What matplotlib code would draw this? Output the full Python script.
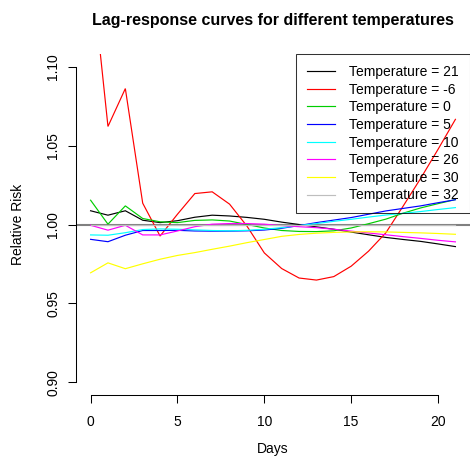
import matplotlib
matplotlib.use("Agg")
import matplotlib.pyplot as plt
from matplotlib.lines import Line2D

# Lag in days
days = list(range(22))

# Relative risk by lag for each temperature
rr_t21 = [1.0087, 1.0059, 1.0087, 1.0027, 1.0012, 1.0024, 1.0046, 1.0059, 1.0054, 1.0045, 1.0033,
          1.0015, 1.0000, 0.9985, 0.9970, 0.9952, 0.9935, 0.9918, 0.9905, 0.9893, 0.9877, 0.9860]
rr_tm6 = [1.1670, 1.0621, 1.0861, 1.0135, 0.9927, 1.0065, 1.0196, 1.0207, 1.0129, 0.9990, 0.9820,
          0.9721, 0.9661, 0.9648, 0.9670, 0.9736, 0.9831, 0.9948, 1.0118, 1.0292, 1.0476, 1.0666]
rr_t0 = [1.0154, 1.0002, 1.0118, 1.0038, 1.0017, 1.0012, 1.0026, 1.0029, 1.0022, 1.0000, 0.9978,
         0.9962, 0.9956, 0.9955, 0.9960, 0.9978, 1.0005, 1.0034, 1.0072, 1.0105, 1.0132, 1.0158]
rr_t5 = [0.9906, 0.9891, 0.9932, 0.9962, 0.9962, 0.9963, 0.9959, 0.9958, 0.9958, 0.9960, 0.9965,
         0.9976, 0.9993, 1.0012, 1.0028, 1.0044, 1.0065, 1.0086, 1.0102, 1.0118, 1.0138, 1.0157]
rr_t10 = [0.9934, 0.9932, 0.9948, 0.9968, 0.9972, 0.9970, 0.9966, 0.9962, 0.9960, 0.9963, 0.9970,
          0.9980, 0.9993, 1.0006, 1.0020, 1.0033, 1.0047, 1.0060, 1.0071, 1.0082, 1.0095, 1.0107]
rr_t26 = [0.9995, 0.9964, 0.9995, 0.9934, 0.9934, 0.9959, 0.9986, 1.0002, 1.0006, 1.0006, 1.0002,
          0.9993, 0.9986, 0.9980, 0.9970, 0.9958, 0.9946, 0.9935, 0.9923, 0.9912, 0.9900, 0.9890]
rr_t30 = [0.9694, 0.9757, 0.9720, 0.9751, 0.9780, 0.9804, 0.9822, 0.9843, 0.9863, 0.9885, 0.9905,
          0.9925, 0.9937, 0.9945, 0.9950, 0.9953, 0.9954, 0.9953, 0.9950, 0.9947, 0.9943, 0.9938]
rr_t32 = [1.0] * 22

series = [rr_t21, rr_tm6, rr_t0, rr_t5, rr_t10, rr_t26, rr_t30, rr_t32]
labels = ["Temperature = 21", "Temperature = -6", "Temperature = 0", "Temperature = 5",
          "Temperature = 10", "Temperature = 26", "Temperature = 30", "Temperature = 32"]
colors = ["#000000", "#FF0000", "#00CD00", "#0000FF", "#00FFFF", "#FF00FF", "#FFFF00", "#BEBEBE"]

xticks = [0, 5, 10, 15, 20]
yticks = [0.90, 0.95, 1.00, 1.05, 1.10]
ytick_labels = ["0.90", "0.95", "1.00", "1.05", "1.10"]

plt.rcParams["font.family"] = ["Liberation Sans", "DejaVu Sans"]
FS = 10.0

fig = plt.figure(figsize=(4.70, 4.66), dpi=100)
ax = fig.add_axes([76 / 470, 1 - 395 / 466, 1 - 76 / 470, (395 - 54) / 466])

for y, c in zip(series, colors):
    ax.plot(days, y, color=c, lw=0.85, solid_joinstyle="miter")

ax.axhline(1.0, color="#808080", lw=1.5, zorder=1.5)

ax.set_xlim(-0.84, 21.84)
ax.set_ylim(0.892, 1.108)

for s in ("top", "right"):
    ax.spines[s].set_visible(False)
ax.spines["bottom"].set_bounds(0, 20)
ax.spines["left"].set_bounds(0.90, 1.10)
for s in ("bottom", "left"):
    ax.spines[s].set_linewidth(0.75)
    ax.spines[s].set_color("#000000")

ax.set_xticks(xticks)
ax.set_xticklabels([str(v) for v in xticks])
ax.set_yticks(yticks)
ax.set_yticklabels(ytick_labels, rotation=90, va="center")
ax.tick_params(axis="x", direction="out", length=6, width=0.75, pad=8.5, labelsize=FS)
ax.tick_params(axis="y", direction="out", length=6, width=0.75, pad=5.5, labelsize=FS)

fig.text(273 / 470, 1 - 449 / 466, "Days", ha="center", va="center", fontsize=FS)
fig.text(18 / 470, 1 - 224.5 / 466, "Relative Risk", ha="center", va="center",
         rotation=90, fontsize=FS)
fig.text(273 / 470, 1 - 20 / 466, "Lag-response curves for different temperatures",
         ha="center", va="center", fontsize=11.5, fontweight="bold")

handles = [Line2D([], [], color=c, lw=0.85) for c in colors]
leg = ax.legend(handles, labels, loc="upper right", bbox_to_anchor=(1.0, 1.0),
                borderaxespad=0.0, fontsize=FS, frameon=True, fancybox=False,
                handlelength=1.95, handletextpad=1.05, labelspacing=0.26,
                borderpad=0.8)
leg.get_frame().set_edgecolor("#000000")
leg.get_frame().set_facecolor("none")
leg.get_frame().set_linewidth(0.75)

fig.savefig("out.png", dpi=100)
